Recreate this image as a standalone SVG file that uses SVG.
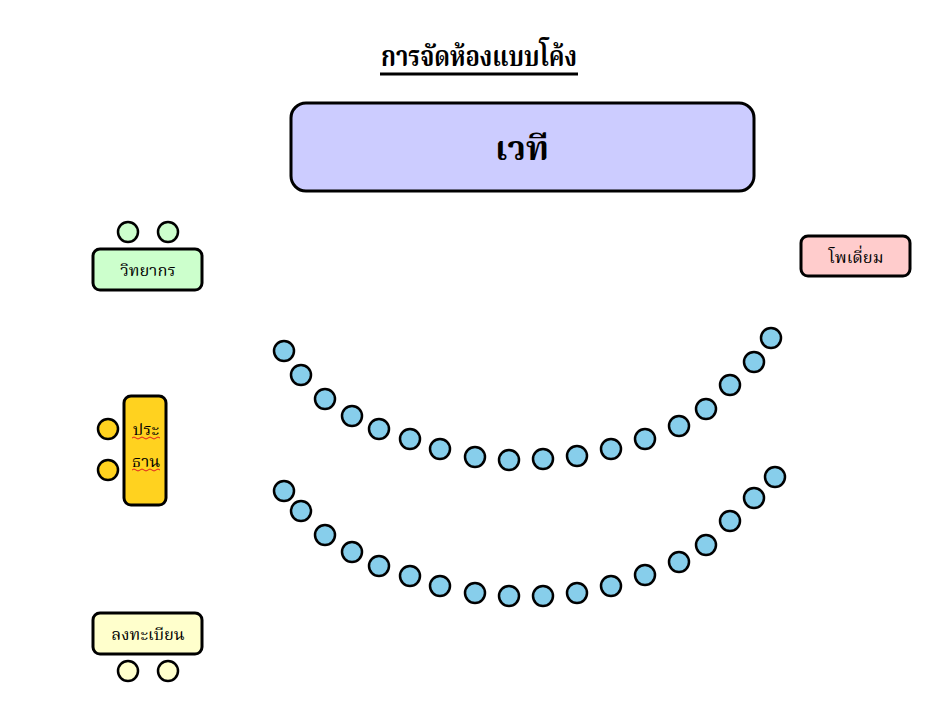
<svg xmlns="http://www.w3.org/2000/svg" width="947" height="707" viewBox="0 0 947 707">
<style>
text { font-family: "Liberation Serif", "Noto Serif Thai", "Noto Sans Thai", serif; fill: #000; text-anchor: middle; }
.box { stroke: #000; stroke-width: 3; }
.seat { fill: #87ceeb; stroke: #000; stroke-width: 2.5; }
.lbl { font-size: 16.5px; }
.wavy { fill: none; stroke: #e02020; stroke-width: 1; }
</style>
<rect width="947" height="707" fill="#ffffff"/>
<g id="title">
  <text x="479" y="66" font-size="28" font-weight="bold" textLength="196" lengthAdjust="spacingAndGlyphs">การจัดห้องแบบโค้ง</text>
  <line x1="380" y1="74" x2="578" y2="74" stroke="#000" stroke-width="3"/>
</g>
<g id="stage">
  <rect class="box" x="291" y="103" width="463" height="88" rx="15" fill="#ccccff"/>
  <text x="522" y="160" font-size="34" font-weight="bold">เวที</text>
</g>
<g id="speaker">
  <circle cx="128" cy="232" r="10" fill="#ccffcc" stroke="#000" stroke-width="2.5"/>
  <circle cx="168" cy="232" r="10" fill="#ccffcc" stroke="#000" stroke-width="2.5"/>
  <rect class="box" x="93" y="249" width="109" height="41" rx="7" fill="#ccffcc"/>
  <text class="lbl" x="148" y="276">วิทยากร</text>
</g>
<g id="podium">
  <rect class="box" x="801" y="236" width="109" height="40" rx="7" fill="#ffcccc"/>
  <text class="lbl" x="856" y="263">โพเดี่ยม</text>
</g>
<g id="chairman">
  <circle cx="108" cy="429" r="10" fill="#ffd21f" stroke="#000" stroke-width="2.5"/>
  <circle cx="108" cy="470" r="10" fill="#ffd21f" stroke="#000" stroke-width="2.5"/>
  <rect class="box" x="124" y="396" width="42" height="109" rx="7" fill="#ffd21f"/>
  <text class="lbl" x="146" y="435">ประ</text>
  <text class="lbl" x="146" y="467">ธาน</text>
  <path class="wavy" d="M132 438 q2 -2 4 0 t4 0 t4 0 t4 0 t4 0 t4 0 t4 0"/>
  <path class="wavy" d="M132 470 q2 -2 4 0 t4 0 t4 0 t4 0 t4 0 t4 0 t4 0"/>
</g>
<g id="registration">
  <rect class="box" x="93" y="613" width="109" height="41" rx="7" fill="#ffffcc"/>
  <text class="lbl" x="148" y="640">ลงทะเบียน</text>
  <circle cx="128" cy="671" r="10" fill="#ffffcc" stroke="#000" stroke-width="2.5"/>
  <circle cx="168" cy="671" r="10" fill="#ffffcc" stroke="#000" stroke-width="2.5"/>
</g>
<g id="row1">
  <circle class="seat" cx="284" cy="351" r="10"/>
  <circle class="seat" cx="301" cy="375" r="10"/>
  <circle class="seat" cx="325" cy="399" r="10"/>
  <circle class="seat" cx="352" cy="416" r="10"/>
  <circle class="seat" cx="379" cy="429" r="10"/>
  <circle class="seat" cx="410" cy="439" r="10"/>
  <circle class="seat" cx="440" cy="449" r="10"/>
  <circle class="seat" cx="475" cy="457" r="10"/>
  <circle class="seat" cx="509" cy="460" r="10"/>
  <circle class="seat" cx="543" cy="459" r="10"/>
  <circle class="seat" cx="577" cy="456" r="10"/>
  <circle class="seat" cx="611" cy="449" r="10"/>
  <circle class="seat" cx="645" cy="439" r="10"/>
  <circle class="seat" cx="679" cy="426" r="10"/>
  <circle class="seat" cx="706" cy="409" r="10"/>
  <circle class="seat" cx="730" cy="385" r="10"/>
  <circle class="seat" cx="754" cy="362" r="10"/>
  <circle class="seat" cx="771" cy="338" r="10"/>
</g>
<g id="row2">
  <circle class="seat" cx="284" cy="491" r="10"/>
  <circle class="seat" cx="301" cy="511" r="10"/>
  <circle class="seat" cx="325" cy="535" r="10"/>
  <circle class="seat" cx="352" cy="552" r="10"/>
  <circle class="seat" cx="379" cy="566" r="10"/>
  <circle class="seat" cx="410" cy="576" r="10"/>
  <circle class="seat" cx="440" cy="586" r="10"/>
  <circle class="seat" cx="475" cy="593" r="10"/>
  <circle class="seat" cx="509" cy="596" r="10"/>
  <circle class="seat" cx="543" cy="596" r="10"/>
  <circle class="seat" cx="577" cy="593" r="10"/>
  <circle class="seat" cx="611" cy="586" r="10"/>
  <circle class="seat" cx="645" cy="575" r="10"/>
  <circle class="seat" cx="679" cy="562" r="10"/>
  <circle class="seat" cx="706" cy="545" r="10"/>
  <circle class="seat" cx="730" cy="521" r="10"/>
  <circle class="seat" cx="754" cy="498" r="10"/>
  <circle class="seat" cx="775" cy="477" r="10"/>
</g>
<g id="connectors"></g>
</svg>
